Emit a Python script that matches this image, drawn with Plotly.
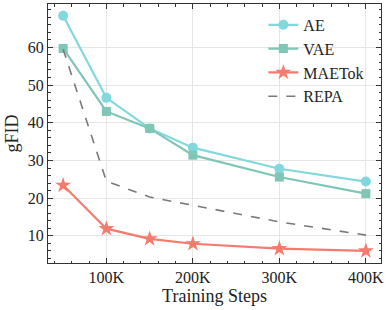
import plotly.graph_objects as go

steps = [50, 100, 150, 200, 300, 400]
ae = [68.4, 46.6, 38.5, 33.4, 27.8, 24.4]
vae = [59.7, 43.0, 38.5, 31.4, 25.6, 21.2]
maetok = [23.4, 11.9, 9.2, 7.9, 6.6, 6.0]
repa = [59.5, 24.5, 20.3, 18.1, 13.7, 10.2]
xtick_vals = [100, 200, 300, 400]
xtick_text = ["100K", "200K", "300K", "400K"]
ytick_vals = [10, 20, 30, 40, 50, 60]

FONT = "Liberation Serif"

fig = go.Figure()
fig.add_trace(go.Scatter(x=steps, y=ae, name="AE", mode="lines+markers",
                         line=dict(color="#82d8dc", width=2.2),
                         marker=dict(symbol="circle", size=10, color="#82d8dc")))
fig.add_trace(go.Scatter(x=steps, y=vae, name="VAE", mode="lines+markers",
                         line=dict(color="#7fc6b6", width=2.2),
                         marker=dict(symbol="square", size=9, color="#7fc6b6")))
fig.add_trace(go.Scatter(x=steps, y=maetok, name="MAETok", mode="lines+markers",
                         line=dict(color="#f47b6d", width=2.2),
                         marker=dict(symbol="star", size=12, color="#f47b6d")))
fig.add_trace(go.Scatter(x=steps, y=repa, name="REPA", mode="lines",
                         line=dict(color="#7a7a7a", width=1.6, dash="dash")))

axis_common = dict(
    showline=True, linecolor="#333333", linewidth=1, mirror="allticks",
    ticks="inside", ticklen=5, tickcolor="#333333", tickwidth=1,
    showgrid=True, gridcolor="#e6e6e6", gridwidth=1, zeroline=False,
    tickfont=dict(family=FONT, size=16, color="#222222"),
)

fig.update_xaxes(range=[32.5, 417.5], tickvals=xtick_vals, ticktext=xtick_text,
                 minor=dict(dtick=20, tick0=0, ticks="inside", ticklen=2.5,
                            tickcolor="#333333", showgrid=False),
                 title=dict(text="Training Steps", font=dict(family=FONT, size=18, color="#222222"),
                            standoff=2),
                 **axis_common)
fig.update_yaxes(range=[2.8, 71.5], tickvals=ytick_vals,
                 minor=dict(dtick=2, tick0=0, ticks="inside", ticklen=2.5,
                            tickcolor="#333333", showgrid=False),
                 title=dict(text="gFID", font=dict(family=FONT, size=18, color="#222222"),
                            standoff=4),
                 **axis_common)

fig.update_layout(
    width=390, height=310,
    margin=dict(l=48, r=9, t=4, b=47),
    plot_bgcolor="white", paper_bgcolor="white",
    legend=dict(x=0.965, y=0.985, xanchor="right", yanchor="top",
                bgcolor="rgba(255,255,255,0)", borderwidth=0,
                font=dict(family=FONT, size=16, color="#222222"),
                itemwidth=30, tracegroupgap=0),
    showlegend=True,
)

fig.write_html("out.html", config={"displayModeBar": False},
               post_script="document.body.style.margin='0';document.body.style.overflow='hidden';")
